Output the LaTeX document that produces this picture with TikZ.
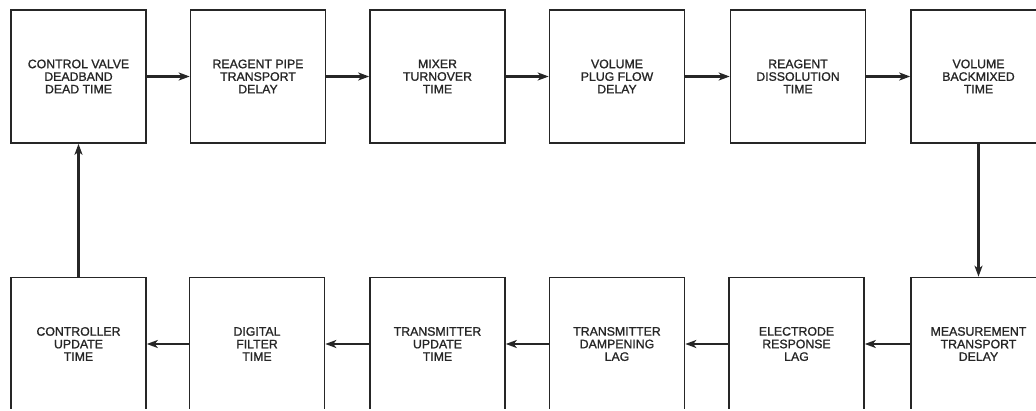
\documentclass[tikz,border=0pt]{standalone}
\usepackage{fontspec}
\setmainfont{Liberation Sans}
\newfontfamily\medfont[FakeBold=1.2]{Liberation Sans}
\usetikzlibrary{arrows.meta}
\begin{document}
\begin{tikzpicture}[x=1pt,y=1pt,
  blk/.style={draw=black!85, line width=1.6pt, minimum width=135pt, minimum height=133pt,
    inner sep=0pt, align=center, font=\medfont\fontsize{12.3}{12.6}\selectfont, text=black!85},
  arr/.style={line width=2.6pt, draw=black!85, -{Stealth[length=11pt,width=8pt,inset=3pt]}}]
\useasboundingbox (0,0) rectangle (1036,410);
\clip (0,1.6) rectangle (1036,410);
% top row
\node[blk] (t1) at (78.5,333.5) {CONTROL VALVE\\DEADBAND\\DEAD TIME};
\node[blk] (t2) at (258,333.5) {REAGENT PIPE\\TRANSPORT\\DELAY};
\node[blk] (t3) at (437.5,333.5) {MIXER\\TURNOVER\\TIME};
\node[blk] (t4) at (617,333.5) {VOLUME\\PLUG FLOW\\DELAY};
\node[blk] (t5) at (798,333.5) {REAGENT\\DISSOLUTION\\TIME};
\node[blk] (t6) at (978.5,333.5) {VOLUME\\BACKMIXED\\TIME};
% bottom row
\node[blk] (b1) at (78.5,66) {CONTROLLER\\UPDATE\\TIME};
\node[blk] (b2) at (257,66) {DIGITAL\\FILTER\\TIME};
\node[blk] (b3) at (437.5,66) {TRANSMITTER\\UPDATE\\TIME};
\node[blk] (b4) at (617,66) {TRANSMITTER\\DAMPENING\\LAG};
\node[blk] (b5) at (796.5,66) {ELECTRODE\\RESPONSE\\LAG};
\node[blk] (b6) at (978.5,66) {MEASUREMENT\\TRANSPORT\\DELAY};
% connectors
\draw[arr] (t1) -- (t2);
\draw[arr] (t2) -- (t3);
\draw[arr] (t3) -- (t4);
\draw[arr] (t4) -- (t5);
\draw[arr] (t5) -- (t6);
\draw[arr] (t6) -- (b6);
\draw[arr] (b6) -- (b5);
\draw[arr] (b5) -- (b4);
\draw[arr] (b4) -- (b3);
\draw[arr] (b3) -- (b2);
\draw[arr] (b2) -- (b1);
\draw[arr] (b1) -- (t1);
\end{tikzpicture}
\end{document}
